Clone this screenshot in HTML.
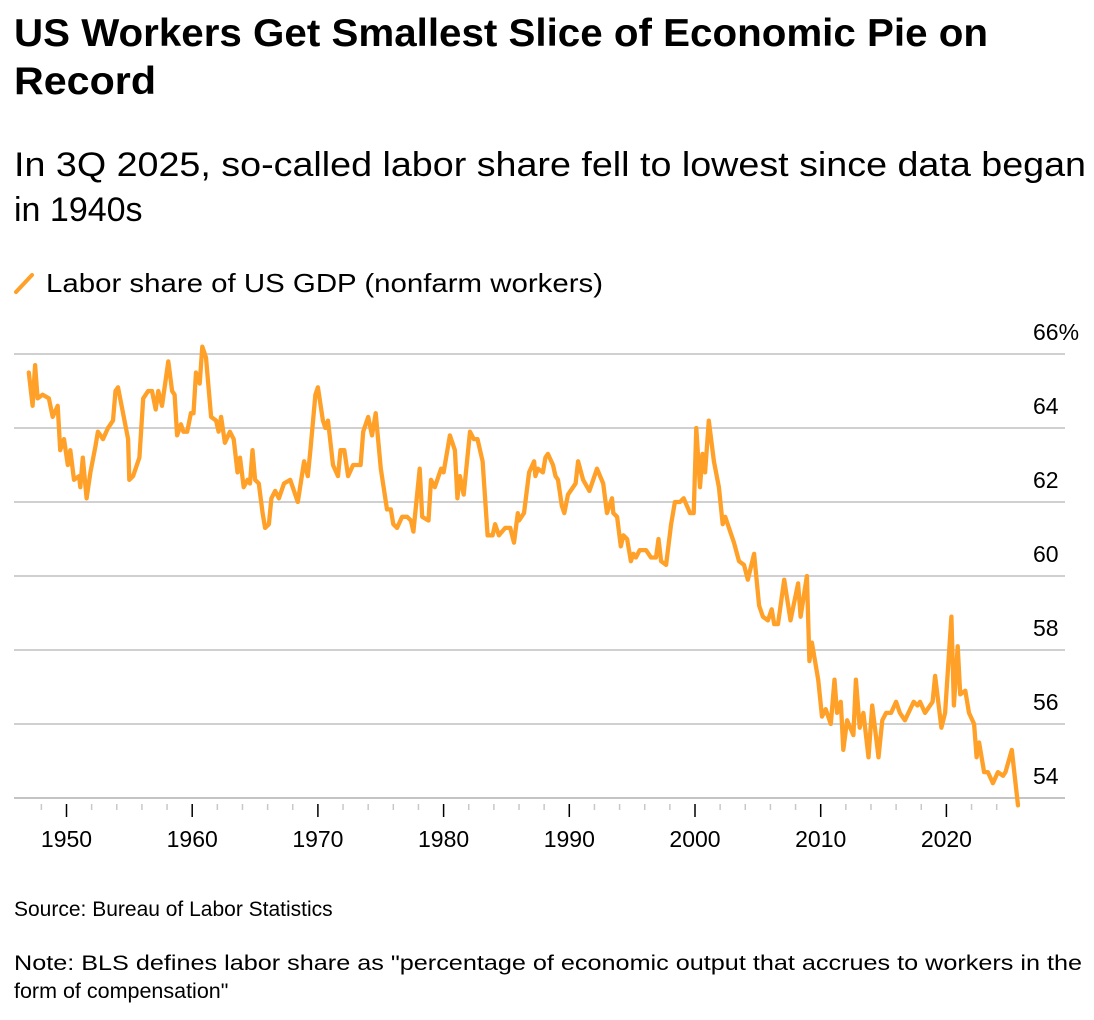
<!DOCTYPE html>
<html><head><meta charset="utf-8"><style>
html,body{margin:0;padding:0;background:#fff;}
svg{display:block;font-family:"Liberation Sans",Arial,sans-serif;}
</style></head><body>
<svg id="chart" width="1094" height="1020" viewBox="0 0 1094 1020" xmlns="http://www.w3.org/2000/svg">
<text x="14" y="46" font-size="39" font-weight="bold" fill="#000" textLength="974" lengthAdjust="spacingAndGlyphs">US Workers Get Smallest Slice of Economic Pie on</text>
<text x="14" y="94" font-size="39" font-weight="bold" fill="#000" textLength="142" lengthAdjust="spacingAndGlyphs">Record</text>
<text x="14" y="176" font-size="34" fill="#000" textLength="1072" lengthAdjust="spacingAndGlyphs">In 3Q 2025, so-called labor share fell to lowest since data began</text>
<text x="14" y="221" font-size="34" fill="#000">in 1940s</text>
<g>
<line x1="16" y1="292" x2="32" y2="275" stroke="#ffa028" stroke-width="4" stroke-linecap="round"/>
<text x="46" y="292" font-size="26" fill="#000" textLength="557" lengthAdjust="spacingAndGlyphs">Labor share of US GDP (nonfarm workers)</text>
</g>
<g id="grid"></g>
<g id="xaxis"></g>
<path id="series" fill="none" stroke="#ffa028" stroke-width="4.3" stroke-linejoin="round" stroke-linecap="round"/>
<text x="14" y="916" font-size="21" fill="#000">Source: Bureau of Labor Statistics</text>
<text x="14" y="970" font-size="21.5" fill="#000" textLength="1068" lengthAdjust="spacingAndGlyphs">Note: BLS defines labor share as "percentage of economic output that accrues to workers in the</text>
<text x="14" y="998" font-size="21.5" fill="#000">form of compensation"</text>
</svg>
<script>
const years=[1947.0,1947.3,1947.5,1947.7,1948.1,1948.6,1948.9,1949.3,1949.5,1949.8,1950.1,1950.3,1950.6,1951.0,1951.1,1951.3,1951.6,1951.9,1952.3,1952.5,1952.9,1953.3,1953.7,1953.9,1954.1,1954.9,1955.0,1955.3,1955.8,1956.1,1956.5,1956.8,1957.1,1957.3,1957.6,1958.1,1958.4,1958.6,1958.8,1959.1,1959.3,1959.6,1959.9,1960.1,1960.3,1960.6,1960.8,1961.1,1961.5,1961.9,1962.1,1962.3,1962.6,1963.0,1963.3,1963.6,1963.8,1964.1,1964.4,1964.6,1964.8,1965.0,1965.3,1965.6,1965.8,1966.1,1966.3,1966.6,1966.9,1967.3,1967.8,1968.4,1968.9,1969.2,1969.4,1969.8,1970.0,1970.4,1970.6,1970.8,1971.2,1971.6,1971.8,1972.1,1972.4,1972.8,1973.4,1973.6,1974.0,1974.3,1974.6,1975.0,1975.5,1975.8,1976.0,1976.3,1976.7,1977.1,1977.4,1977.6,1978.1,1978.3,1978.8,1979.0,1979.3,1979.8,1980.0,1980.5,1980.9,1981.1,1981.3,1981.6,1982.1,1982.4,1982.7,1983.1,1983.5,1983.9,1984.1,1984.4,1984.9,1985.2,1985.3,1985.6,1985.9,1986.0,1986.4,1986.8,1987.2,1987.3,1987.5,1987.9,1988.1,1988.3,1988.7,1988.9,1989.1,1989.4,1989.6,1989.9,1990.5,1990.7,1991.1,1991.6,1992.2,1992.7,1993.0,1993.4,1993.5,1993.8,1994.1,1994.3,1994.6,1994.9,1995.1,1995.3,1995.6,1996.1,1996.5,1996.9,1997.1,1997.3,1997.7,1998.1,1998.4,1998.8,1999.1,1999.6,1999.9,2000.1,2000.4,2000.6,2000.8,2001.1,2001.5,2001.9,2002.2,2002.4,2002.8,2003.1,2003.5,2003.9,2004.2,2004.7,2005.1,2005.4,2005.8,2006.1,2006.3,2006.6,2007.1,2007.6,2008.2,2008.4,2008.9,2009.1,2009.3,2009.8,2010.1,2010.4,2010.8,2011.1,2011.3,2011.6,2011.8,2012.1,2012.6,2012.8,2013.1,2013.4,2013.8,2014.1,2014.6,2014.9,2015.2,2015.6,2016.0,2016.3,2016.7,2017.4,2017.7,2017.9,2018.3,2018.9,2019.1,2019.6,2019.9,2020.4,2020.6,2020.9,2021.1,2021.5,2021.8,2022.2,2022.4,2022.6,2023.0,2023.3,2023.7,2024.1,2024.5,2024.7,2025.2,2025.7];
const shares=[65.5,64.6,65.7,64.8,64.9,64.8,64.3,64.6,63.4,63.7,63.0,63.4,62.6,62.7,62.4,63.2,62.1,62.8,63.5,63.9,63.7,64.0,64.2,65.0,65.1,63.7,62.6,62.7,63.2,64.8,65.0,65.0,64.5,65.0,64.6,65.8,65.0,64.9,63.8,64.1,63.9,63.9,64.4,64.4,65.5,65.2,66.2,65.9,64.3,64.2,63.9,64.3,63.6,63.9,63.7,62.8,63.2,62.4,62.6,62.5,63.4,62.6,62.5,61.7,61.3,61.4,62.1,62.3,62.1,62.5,62.6,62.0,63.1,62.7,63.4,64.9,65.1,64.2,64.0,64.2,63.0,62.7,63.4,63.4,62.7,63.0,63.0,63.9,64.3,63.8,64.4,62.9,61.8,61.8,61.4,61.3,61.6,61.6,61.5,61.2,62.9,61.6,61.5,62.6,62.4,62.9,62.8,63.8,63.4,62.1,62.7,62.2,63.9,63.7,63.7,63.1,61.1,61.1,61.4,61.1,61.3,61.3,61.3,60.9,61.7,61.5,61.7,62.8,63.1,62.7,62.9,62.8,63.2,63.3,63.0,62.7,62.6,61.9,61.7,62.2,62.5,63.1,62.6,62.3,62.9,62.5,61.7,62.1,61.7,61.6,60.8,61.1,61.0,60.4,60.6,60.5,60.7,60.7,60.5,60.5,61.0,60.4,60.3,61.4,62.0,62.0,62.1,61.7,61.7,64.0,62.4,63.3,62.8,64.2,63.1,62.4,61.4,61.6,61.2,60.9,60.4,60.3,59.9,60.6,59.2,58.9,58.8,59.1,58.7,58.7,59.9,58.8,59.8,58.9,60.0,57.7,58.2,57.2,56.2,56.4,56.0,57.2,56.3,56.6,55.3,56.1,55.7,57.2,55.9,56.3,55.1,56.5,55.1,56.1,56.3,56.3,56.6,56.3,56.1,56.6,56.5,56.6,56.3,56.6,57.3,55.9,56.3,58.9,56.5,58.1,56.8,56.9,56.3,56.0,55.1,55.5,54.7,54.7,54.4,54.7,54.6,54.7,55.3,53.8];
const yTicks=[66,64,62,60,58,56,54];
const yTickLabels=["66%","64","62","60","58","56","54"];
const xMajor=[1950,1960,1970,1980,1990,2000,2010,2020];
const xMinorStart=1948, xMinorEnd=2024;

const NS="http://www.w3.org/2000/svg";
const X0=14,X1=1065;
function xs(yr){return 66.5+(yr-1950)*12.57;}
function ys(v){return 354+(66-v)*37;}
function mk(tag,attrs,parent){const e=document.createElementNS(NS,tag);for(const k in attrs)e.setAttribute(k,attrs[k]);parent.appendChild(e);return e;}
const grid=document.getElementById('grid');
yTicks.forEach((v,i)=>{
  const ln=mk('line',{x1:X0,x2:X1,y1:ys(v),y2:ys(v),stroke:i===yTicks.length-1?'#c4c4c4':'#d0d0d0','stroke-width':2},grid);
  
  
  const t=mk('text',{x:1033,y:ys(v)-14,'font-size':23,fill:'#000'},grid);
  t.textContent=yTickLabels[i];
  
  
});
const xa=document.getElementById('xaxis');
const by=ys(54);
for(let yr=xMinorStart;yr<=xMinorEnd;yr+=2){
  if(yr%10===0)continue;
  const m=mk('line',{x1:xs(yr),x2:xs(yr),y1:by+6,y2:by+12,stroke:'#c8c8c8','stroke-width':1.5},xa);
  
  
}
xMajor.forEach(yr=>{
  const m=mk('line',{x1:xs(yr),x2:xs(yr),y1:by+6,y2:by+19,stroke:'#000','stroke-width':1.5},xa);
  
  
  const t=mk('text',{x:xs(yr),y:by+49,'font-size':23,fill:'#000','text-anchor':'middle'},xa);
  t.textContent=yr;
  
  
});
let d='';
years.forEach((yr,i)=>{d+=(i?'L':'M')+xs(yr).toFixed(1)+','+ys(shares[i]).toFixed(1);});
document.getElementById('series').setAttribute('d',d);
</script>
</body></html>
